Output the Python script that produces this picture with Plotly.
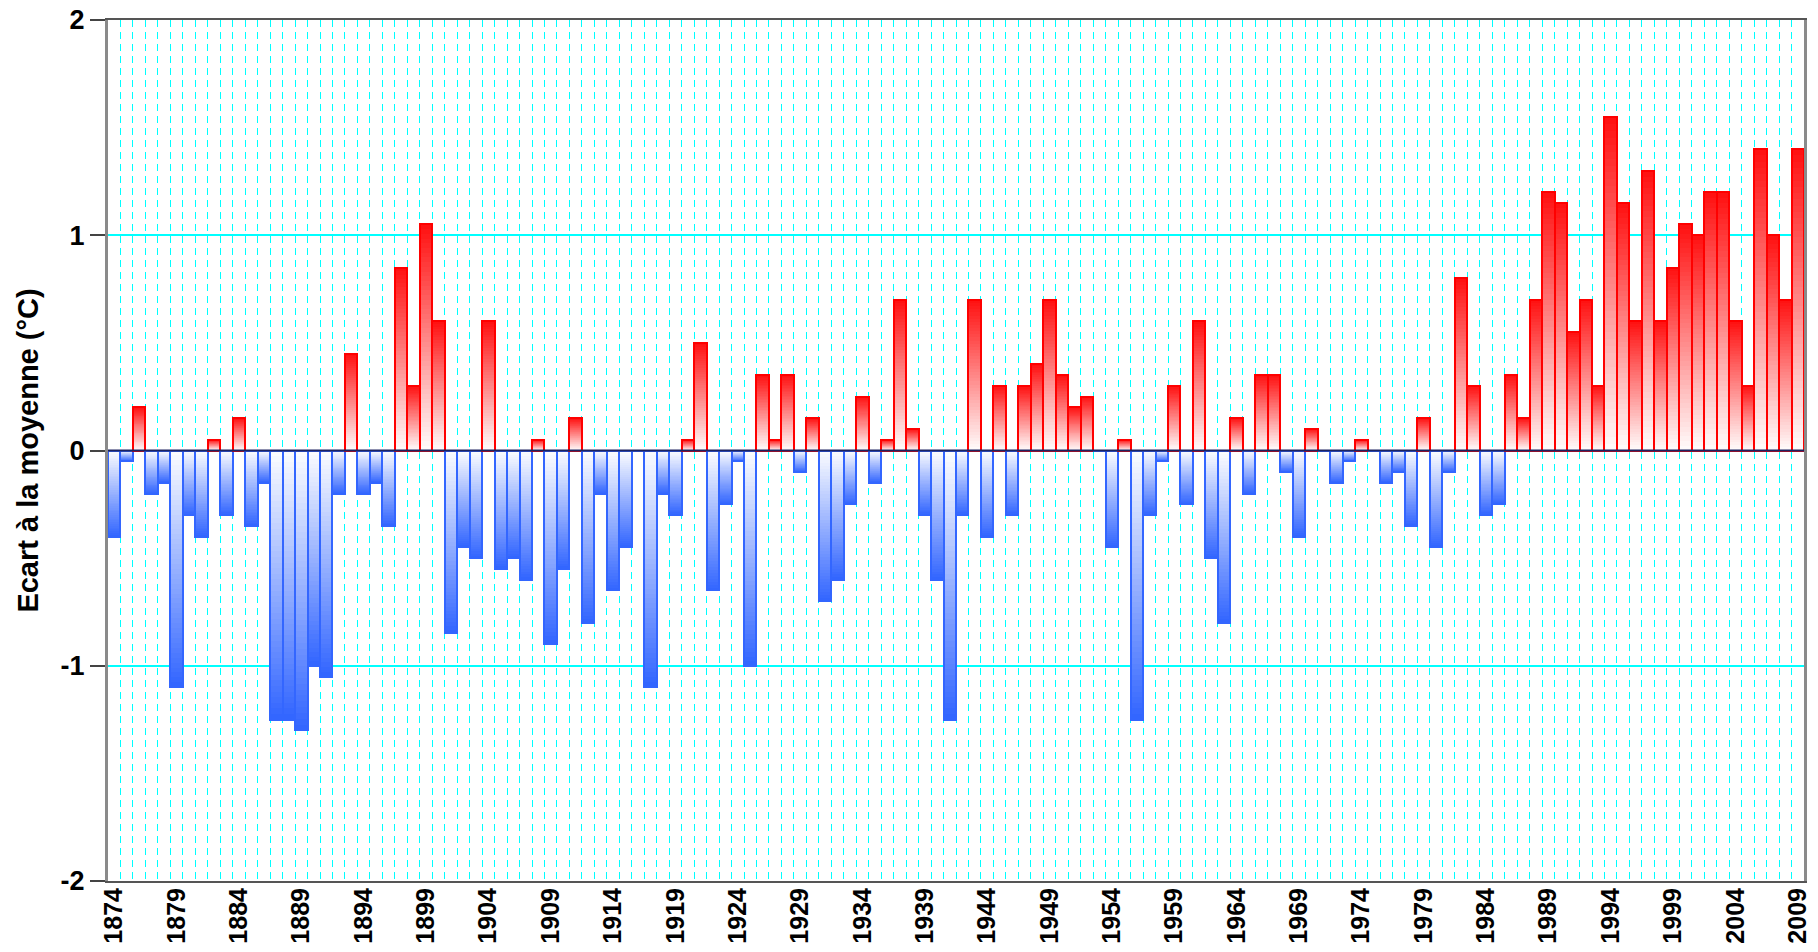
import plotly.graph_objects as go

years = list(range(1874, 2010))
anomalies = [
    -0.40, -0.05, 0.20, -0.20, -0.15, -1.10, -0.30, -0.40, 0.05, -0.30,   # 1874-1883
    0.15, -0.35, -0.15, -1.25, -1.25, -1.30, -1.00, -1.05, -0.20, 0.45,    # 1884-1893
    -0.20, -0.15, -0.35, 0.85, 0.30, 1.05, 0.60, -0.85, -0.45, -0.50,      # 1894-1903
    0.60, -0.55, -0.50, -0.60, 0.05, -0.90, -0.55, 0.15, -0.80, -0.20,     # 1904-1913
    -0.65, -0.45, 0.00, -1.10, -0.20, -0.30, 0.05, 0.50, -0.65, -0.25,     # 1914-1923
    -0.05, -1.00, 0.35, 0.05, 0.35, -0.10, 0.15, -0.70, -0.60, -0.25,      # 1924-1933
    0.25, -0.15, 0.05, 0.70, 0.10, -0.30, -0.60, -1.25, -0.30, 0.70,       # 1934-1943
    -0.40, 0.30, -0.30, 0.30, 0.40, 0.70, 0.35, 0.20, 0.25, 0.00,          # 1944-1953
    -0.45, 0.05, -1.25, -0.30, -0.05, 0.30, -0.25, 0.60, -0.50, -0.80,     # 1954-1963
    0.15, -0.20, 0.35, 0.35, -0.10, -0.40, 0.10, 0.00, -0.15, -0.05,       # 1964-1973
    0.05, 0.00, -0.15, -0.10, -0.35, 0.15, -0.45, -0.10, 0.80, 0.30,       # 1974-1983
    -0.30, -0.25, 0.35, 0.15, 0.70, 1.20, 1.15, 0.55, 0.70, 0.30,          # 1984-1993
    1.55, 1.15, 0.60, 1.30, 0.60, 0.85, 1.05, 1.00, 1.20, 1.20,            # 1994-2003
    0.60, 0.30, 1.40, 1.00, 0.70, 1.40,                                    # 2004-2009
]
tick_years = list(range(1874, 2010, 5))
y_ticks = [-2, -1, 0, 1, 2]
y_ticktext = ["-2", "-1", "0", "1", "2"]
y_title = "Ecart à la moyenne (°C)"

RED_LINE = "#FF0000"
RED_TIP = (255, 18, 18)
BLUE_LINE = "#3366FF"
BLUE_TIP = (51, 102, 255)
WHITE = (255, 255, 255)
N_STEPS = 48


def mix(c_tip, f):
    r = [round(WHITE[i] + (c_tip[i] - WHITE[i]) * f) for i in range(3)]
    return f"rgb({r[0]},{r[1]},{r[2]})"


fig = go.Figure()

# gradient fill: overlapping bars, tallest (full colour) first, shorter/lighter on top
for k in range(N_STEPS):
    f = (N_STEPS - k) / N_STEPS
    heights = [v * f for v in anomalies]
    colors = [mix(RED_TIP if v > 0 else BLUE_TIP, f) for v in anomalies]
    fig.add_trace(go.Bar(
        x=years, y=heights, width=1.0,
        marker=dict(color=colors, line=dict(width=0)),
        showlegend=False, hoverinfo="skip",
    ))

# outlines
fig.add_trace(go.Bar(
    x=years, y=anomalies, width=1.0,
    marker=dict(color="rgba(0,0,0,0)",
                line=dict(color=[RED_LINE if v > 0 else BLUE_LINE for v in anomalies],
                          width=2)),
    showlegend=False, hoverinfo="skip",
))

font_family = "Liberation Sans, Arial, sans-serif"

fig.update_layout(
    width=1818, height=952,
    margin=dict(l=108, r=14, t=20, b=71, autoexpand=False),
    paper_bgcolor="white", plot_bgcolor="white",
    showlegend=False, barmode="overlay", bargap=0,
    font=dict(family=font_family, color="black"),
    xaxis=dict(
        automargin=False,
        range=[1873.5, 2009.5],
        tickmode="array", tickvals=tick_years,
        ticktext=[str(t) for t in tick_years],
        tickangle=-90,
        tickfont=dict(size=25, family=font_family, weight="bold", color="black"),
        ticklabeloverflow="allow",
        ticklabelstandoff=-5,
        showgrid=False, zeroline=False,
        ticks="",
        showline=True, linecolor="#555555", linewidth=2, mirror=True,
        minor=dict(tick0=1873.5, dtick=1, showgrid=True, gridcolor="#00FFFF",
                   gridwidth=1, griddash="7px,5px", ticks=""),
    ),
    yaxis=dict(
        automargin=False,
        range=[-2, 2],
        tickmode="array", tickvals=y_ticks, ticktext=y_ticktext,
        tickfont=dict(size=27, family=font_family, weight="bold", color="black"),
        ticklabeloverflow="allow",
        ticks="outside", ticklen=15, tickwidth=1.5, tickcolor="#444444",
        showgrid=True, gridcolor="#00FFFF", gridwidth=2,
        zeroline=False,
        showline=True, linecolor="#8a8a8a", linewidth=3, mirror=True,
        title=dict(text=y_title, standoff=14,
                   font=dict(size=29, family=font_family, weight="bold", color="black")),
    ),
    shapes=[dict(type="line", xref="paper", yref="y", x0=0, x1=1, y0=0, y1=0,
                 line=dict(color="#1c2360", width=2), layer="above")],
)

fig.write_html("out.html",
               config={"displayModeBar": False},
               post_script="document.body.style.margin='0';document.body.style.overflow='hidden';")
